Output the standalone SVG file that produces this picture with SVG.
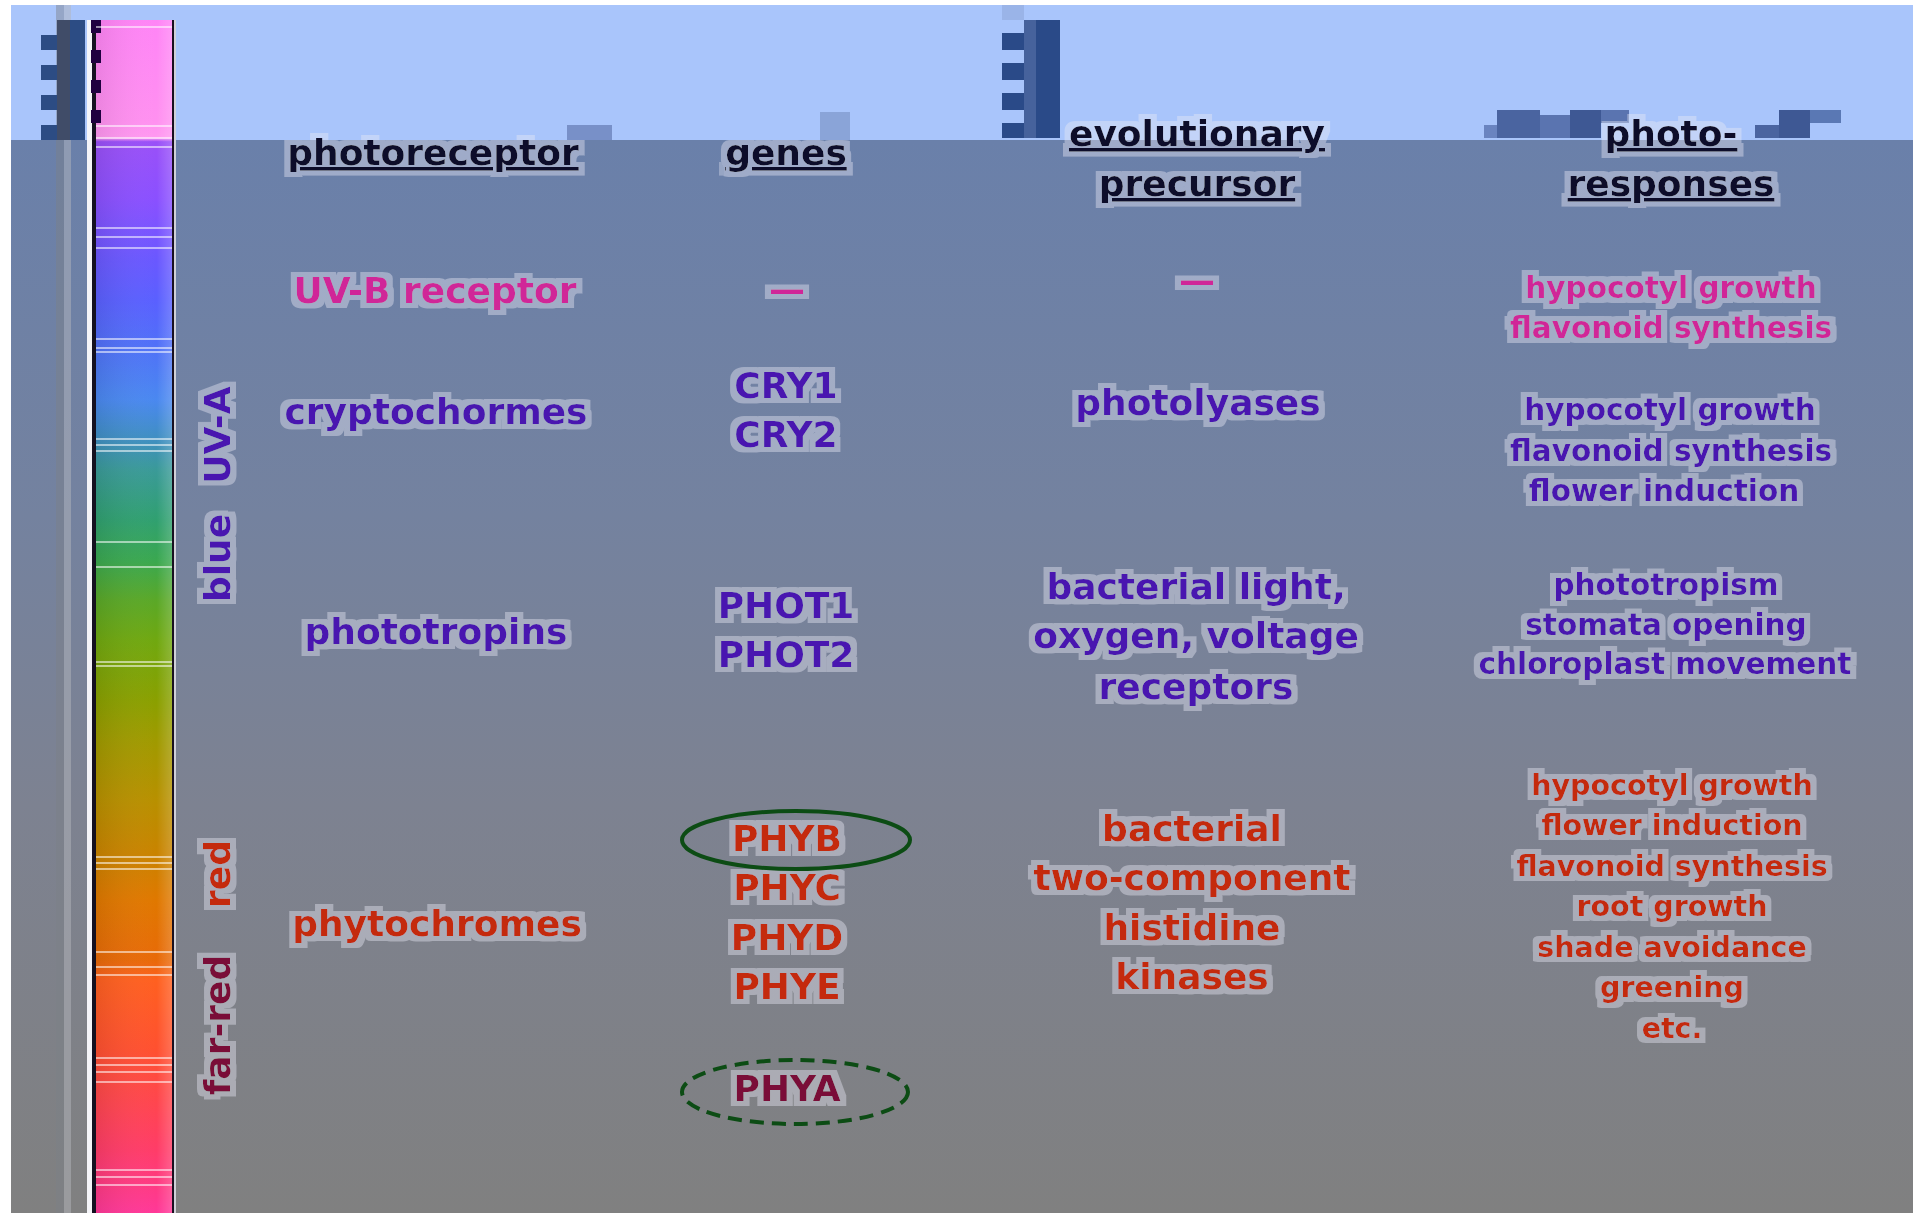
<svg xmlns="http://www.w3.org/2000/svg" width="1913" height="1213" viewBox="0 0 1913 1213">
<style>
text{font-family:"DejaVu Sans","Verdana",sans-serif;font-weight:bold;text-anchor:middle}
.t36{font-size:36px}
.t30{font-size:29.5px}
.t28{font-size:28.5px}
.h{fill:#0c0c2c;text-decoration:underline}
.p{fill:#4a12b0}
.m{fill:#d02898}
.r{fill:#c42a08}
.fr{fill:#7a1038}
.sl{stroke:#ffffff;stroke-opacity:0.55;stroke-width:2}
.ell{fill:none;stroke:#0c4c14;stroke-width:4}
</style>
<defs>
<linearGradient id="bg" x1="0" y1="140" x2="0" y2="1213" gradientUnits="userSpaceOnUse">
<stop offset="0" stop-color="#6a80aa"/>
<stop offset="0.35" stop-color="#74829f"/>
<stop offset="0.62" stop-color="#7d8291"/>
<stop offset="1" stop-color="#808080"/>
</linearGradient>
<linearGradient id="spec" x1="0" y1="20" x2="0" y2="1213" gradientUnits="userSpaceOnUse">
<stop offset="0" stop-color="#ff84f6"/>
<stop offset="0.084" stop-color="#ff90f0"/>
<stop offset="0.099" stop-color="#ff98f0"/>
<stop offset="0.102" stop-color="#9a50f8"/>
<stop offset="0.151" stop-color="#8a50ff"/>
<stop offset="0.201" stop-color="#6a58ff"/>
<stop offset="0.235" stop-color="#5a60ff"/>
<stop offset="0.272" stop-color="#5070f8"/>
<stop offset="0.318" stop-color="#4a88f0"/>
<stop offset="0.352" stop-color="#3f8fc0"/>
<stop offset="0.377" stop-color="#3a9a98"/>
<stop offset="0.419" stop-color="#30a070"/>
<stop offset="0.453" stop-color="#3aa850"/>
<stop offset="0.486" stop-color="#5aa828"/>
<stop offset="0.520" stop-color="#70a810"/>
<stop offset="0.570" stop-color="#8aa000"/>
<stop offset="0.604" stop-color="#a09a00"/>
<stop offset="0.654" stop-color="#b89000"/>
<stop offset="0.696" stop-color="#c88400"/>
<stop offset="0.738" stop-color="#e07800"/>
<stop offset="0.788" stop-color="#e86a08"/>
<stop offset="0.805" stop-color="#ff6020"/>
<stop offset="0.864" stop-color="#ff5030"/>
<stop offset="0.897" stop-color="#ff4848"/>
<stop offset="0.947" stop-color="#ff3c68"/>
<stop offset="1" stop-color="#ff3898"/>
</linearGradient>
<linearGradient id="sheen" x1="96" y1="0" x2="172" y2="0" gradientUnits="userSpaceOnUse">
<stop offset="0" stop-color="#000000" stop-opacity="0.08"/>
<stop offset="0.8" stop-color="#ffffff" stop-opacity="0"/>
<stop offset="1" stop-color="#ffffff" stop-opacity="0.18"/>
</linearGradient>
<filter id="halo" x="-10%" y="-30%" width="120%" height="160%">
<feMorphology in="SourceAlpha" operator="dilate" radius="6 5" result="d"/>
<feFlood flood-color="#e8e8f4" flood-opacity="0.42"/>
<feComposite in2="d" operator="in" result="h"/>
<feMerge><feMergeNode in="h"/><feMergeNode in="SourceGraphic"/></feMerge>
</filter>
</defs>

<g id="background">
<rect x="0" y="0" width="1913" height="1213" fill="#ffffff"/>
<rect x="11" y="5" width="1902" height="135" fill="#a9c5fb"/>
<rect x="11" y="140" width="1902" height="1073" fill="url(#bg)"/>
<rect x="56" y="5" width="8" height="1208" fill="#7c8088" opacity="0.45"/>
<rect x="64" y="5" width="7" height="1208" fill="#b4b6bc" opacity="0.5"/>
<rect x="567" y="125" width="45" height="15" fill="#7890c8"/>
<rect x="820" y="112" width="30" height="28" fill="#8aa4d8"/>
</g>

<g id="ruler-left">
<rect x="57" y="20" width="28" height="120" fill="#2c4c84"/>
<rect x="57" y="20" width="13" height="120" fill="#404c68"/>
<rect x="41" y="35" width="16" height="15" fill="#2c4c84"/>
<rect x="41" y="65" width="16" height="15" fill="#2c4c84"/>
<rect x="41" y="95" width="16" height="15" fill="#2c4c84"/>
<rect x="41" y="125" width="16" height="15" fill="#2c4c84"/>
</g>

<g id="ruler-mid">
<rect x="1002" y="5" width="22" height="15" fill="#9ab4e8"/>
<rect x="1024" y="20" width="36" height="118" fill="#2a4a88"/>
<rect x="1024" y="20" width="12" height="118" fill="#46629c"/>
<rect x="1002" y="33" width="22" height="17" fill="#2a4a88"/>
<rect x="1002" y="63" width="22" height="17" fill="#2a4a88"/>
<rect x="1002" y="93" width="22" height="17" fill="#2a4a88"/>
<rect x="1002" y="123" width="22" height="15" fill="#2a4a88"/>
</g>

<g id="blocks-right">
<rect x="1484" y="125" width="13" height="13" fill="#6a84c0"/>
<rect x="1497" y="110" width="43" height="28" fill="#4a64a0"/>
<rect x="1540" y="115" width="30" height="23" fill="#5a74b0"/>
<rect x="1570" y="110" width="31" height="28" fill="#3e5894"/>
<rect x="1601" y="110" width="28" height="13" fill="#5a74b0"/>
<rect x="1755" y="125" width="24" height="13" fill="#4a64a0"/>
<rect x="1779" y="110" width="31" height="28" fill="#3e5894"/>
<rect x="1810" y="110" width="31" height="13" fill="#5a78b4"/>
</g>

<g id="spectrum">
<rect x="87" y="20" width="5" height="1193" fill="#f4f4f8"/>
<rect x="92" y="20" width="4" height="1193" fill="#141020"/>
<rect x="96" y="20" width="76" height="1193" fill="url(#spec)"/>
<rect x="96" y="20" width="76" height="1193" fill="url(#sheen)"/>
<rect x="172" y="20" width="2" height="1193" fill="#181020"/>
<rect x="174" y="20" width="2" height="1193" fill="#d0d0d8"/>
<rect x="91" y="20" width="10" height="13" fill="#200040"/>
<rect x="91" y="50" width="10" height="13" fill="#200040"/>
<rect x="91" y="80" width="10" height="13" fill="#200040"/>
<rect x="91" y="110" width="10" height="13" fill="#200040"/>
<g class="sl">
<line x1="96" y1="27" x2="172" y2="27"/>
<line x1="96" y1="126" x2="172" y2="126"/>
<line x1="96" y1="138" x2="172" y2="138"/>
<line x1="96" y1="147" x2="172" y2="147"/>
<line x1="96" y1="228" x2="172" y2="228"/>
<line x1="96" y1="237" x2="172" y2="237"/>
<line x1="96" y1="248" x2="172" y2="248"/>
<line x1="96" y1="339" x2="172" y2="339"/>
<line x1="96" y1="348" x2="172" y2="348"/>
<line x1="96" y1="352" x2="172" y2="352"/>
<line x1="96" y1="439" x2="172" y2="439"/>
<line x1="96" y1="445" x2="172" y2="445"/>
<line x1="96" y1="451" x2="172" y2="451"/>
<line x1="96" y1="542" x2="172" y2="542"/>
<line x1="96" y1="567" x2="172" y2="567"/>
<line x1="96" y1="662" x2="172" y2="662"/>
<line x1="96" y1="666" x2="172" y2="666"/>
<line x1="96" y1="857" x2="172" y2="857"/>
<line x1="96" y1="863" x2="172" y2="863"/>
<line x1="96" y1="869" x2="172" y2="869"/>
<line x1="96" y1="952" x2="172" y2="952"/>
<line x1="96" y1="967" x2="172" y2="967"/>
<line x1="96" y1="975" x2="172" y2="975"/>
<line x1="96" y1="1058" x2="172" y2="1058"/>
<line x1="96" y1="1065" x2="172" y2="1065"/>
<line x1="96" y1="1072" x2="172" y2="1072"/>
<line x1="96" y1="1082" x2="172" y2="1082"/>
<line x1="96" y1="1170" x2="172" y2="1170"/>
<line x1="96" y1="1177" x2="172" y2="1177"/>
<line x1="96" y1="1185" x2="172" y2="1185"/>
</g>
</g>

<g id="band-labels" filter="url(#halo)">
<text class="t36 p" transform="translate(230,435) rotate(-90)">UV-A</text>
<text class="t36 p" transform="translate(230,558) rotate(-90)">blue</text>
<text class="t36 r" transform="translate(230,874) rotate(-90)">red</text>
<text class="t36 fr" transform="translate(230,1025) rotate(-90)">far-red</text>
</g>

<g id="headers" filter="url(#halo)">
<text class="t36 h" x="433" y="165">photoreceptor</text>
<text class="t36 h" x="786" y="165">genes</text>
<text class="t36 h" x="1197" y="146">evolutionary</text>
<text class="t36 h" x="1197" y="196">precursor</text>
<text class="t36 h" x="1671" y="146">photo-</text>
<text class="t36 h" x="1671" y="196">responses</text>
</g>

<g id="row-uvb" filter="url(#halo)">
<text class="t36 m" x="435" y="303">UV-B receptor</text>
<text class="t36 m" x="787" y="302">—</text>
<text class="t36 m" x="1197" y="293">—</text>
<text class="t30 m" x="1671" y="298">hypocotyl growth</text>
<text class="t30 m" x="1671" y="338">flavonoid synthesis</text>
</g>

<g id="row-cry" filter="url(#halo)">
<text class="t36 p" x="436" y="424">cryptochormes</text>
<text class="t36 p" x="786" y="398">CRY1</text>
<text class="t36 p" x="786" y="447">CRY2</text>
<text class="t36 p" x="1198" y="415">photolyases</text>
<text class="t30 p" x="1670" y="420">hypocotyl growth</text>
<text class="t30 p" x="1671" y="461">flavonoid synthesis</text>
<text class="t30 p" x="1664" y="501">flower induction</text>
</g>

<g id="row-phot" filter="url(#halo)">
<text class="t36 p" x="436" y="644">phototropins</text>
<text class="t36 p" x="786" y="618">PHOT1</text>
<text class="t36 p" x="786" y="667">PHOT2</text>
<text class="t36 p" x="1196" y="599">bacterial light,</text>
<text class="t36 p" x="1196" y="648">oxygen, voltage</text>
<text class="t36 p" x="1196" y="699">receptors</text>
<text class="t30 p" x="1666" y="595">phototropism</text>
<text class="t30 p" x="1666" y="635">stomata opening</text>
<text class="t30 p" x="1665" y="674">chloroplast movement</text>
</g>

<g id="row-phy" filter="url(#halo)">
<text class="t36 r" x="437" y="936">phytochromes</text>
<text class="t36 r" x="787" y="851">PHYB</text>
<text class="t36 r" x="787" y="900">PHYC</text>
<text class="t36 r" x="787" y="950">PHYD</text>
<text class="t36 r" x="787" y="999">PHYE</text>
<text class="t36 fr" x="787" y="1101">PHYA</text>
<text class="t36 r" x="1192" y="841">bacterial</text>
<text class="t36 r" x="1192" y="890">two-component</text>
<text class="t36 r" x="1192" y="940">histidine</text>
<text class="t36 r" x="1192" y="989">kinases</text>
<text class="t28 r" x="1672" y="795">hypocotyl growth</text>
<text class="t28 r" x="1672" y="835">flower induction</text>
<text class="t28 r" x="1672" y="876">flavonoid synthesis</text>
<text class="t28 r" x="1672" y="916">root growth</text>
<text class="t28 r" x="1672" y="957">shade avoidance</text>
<text class="t28 r" x="1672" y="997">greening</text>
<text class="t28 r" x="1672" y="1038">etc.</text>
</g>

<g id="connectors">
<ellipse id="ring-phyb" class="ell" cx="796" cy="840" rx="114" ry="29"/>
<ellipse id="ring-phya" class="ell" cx="795" cy="1092" rx="113" ry="32" stroke-dasharray="14 8"/>
</g>
</svg>
